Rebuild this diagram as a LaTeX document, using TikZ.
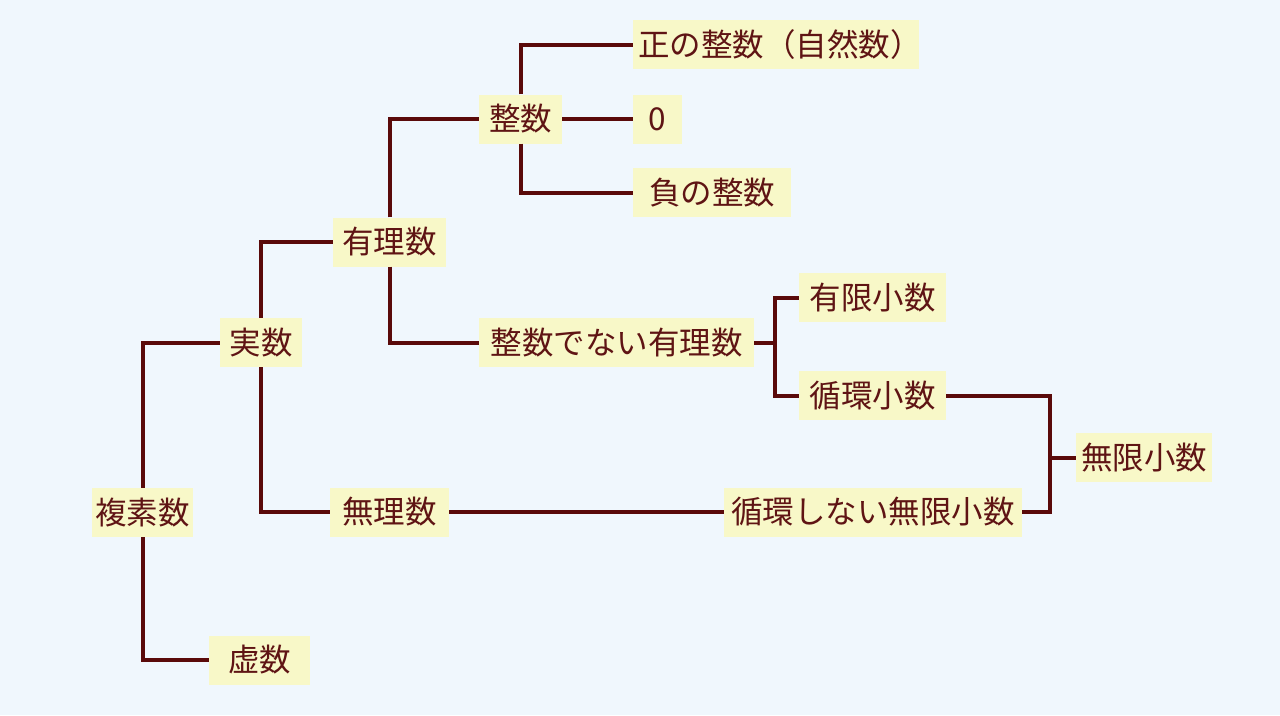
\documentclass[tikz,border=0pt]{standalone}
\usepackage{fontspec}
\newfontfamily\jp{Noto Sans CJK JP}
\definecolor{bg}{RGB}{240,247,253}
\definecolor{boxfill}{RGB}{248,248,200}
\definecolor{linec}{RGB}{90,10,10}
\definecolor{txt}{RGB}{95,20,20}
\begin{document}
\begin{tikzpicture}[x=1pt,y=-1pt,
  box/.style={fill=boxfill, text=txt, font=\jp\fontsize{31.5}{32}\selectfont,
    inner sep=0pt, minimum height=49pt, text height=26pt, text depth=2.5pt, anchor=center},
  link/.style={draw=linec, line width=4pt}]
\fill[bg] (0,0) rectangle (1280,715);
\useasboundingbox (0,0) rectangle (1280,715);

\node[box, minimum width=101pt] (fukuso) at (142.5,512.5) {複素数};
\node[box, minimum width=82pt] (jitsu) at (261,342.5) {実数};
\node[box, minimum width=101pt] (kyo) at (259.5,660) {虚数};
\node[box, minimum width=113pt] (yuuri) at (389.5,242) {有理数};
\node[box, minimum width=119pt] (muri) at (389.5,512) {無理数};
\node[box, minimum width=83pt] (seisu) at (520.5,119) {整数};
\node[box, minimum width=286pt, text width=276pt, align=left] (sei) at (776,44.5) {正の整数（自然数）};
\node[box, minimum width=49pt] (zero) at (657.5,119) {0};
\node[box, minimum width=158pt] (fu) at (712,192.5) {負の整数};
\node[box, minimum width=275pt] (hiseisu) at (616.5,342.5) {整数でない有理数};
\node[box, minimum width=147pt] (yugen) at (872.5,297.5) {有限小数};
\node[box, minimum width=147pt] (junkan) at (872.5,395.5) {循環小数};
\node[box, minimum width=136pt] (mugen) at (1144,457.5) {無限小数};
\node[box, minimum width=298pt] (hijunkan) at (873,512) {循環しない無限小数};

\coordinate (b1) at (775,342.5);
\coordinate (b2) at (1050,457.5);

\draw[link] (fukuso.north) |- (jitsu.west);
\draw[link] (fukuso.south) |- (kyo.west);
\draw[link] (jitsu.north) |- (yuuri.west);
\draw[link] (jitsu.south) |- (muri.west);
\draw[link] (yuuri.north) |- (seisu.west);
\draw[link] (yuuri.south) |- (hiseisu.west);
\draw[link] (seisu.north) |- (sei.west);
\draw[link] (seisu.east) -- (zero.west);
\draw[link] (seisu.south) |- (fu.west);
\draw[link] (hiseisu.east) -- (b1);
\draw[link] (yugen.west) -| (b1) |- (junkan.west);
\draw[link] (junkan.east) -| (b2) |- (hijunkan.east);
\draw[link] (b2) -- (mugen.west);
\draw[link] (muri.east) -- (hijunkan.west);
\end{tikzpicture}
\end{document}
